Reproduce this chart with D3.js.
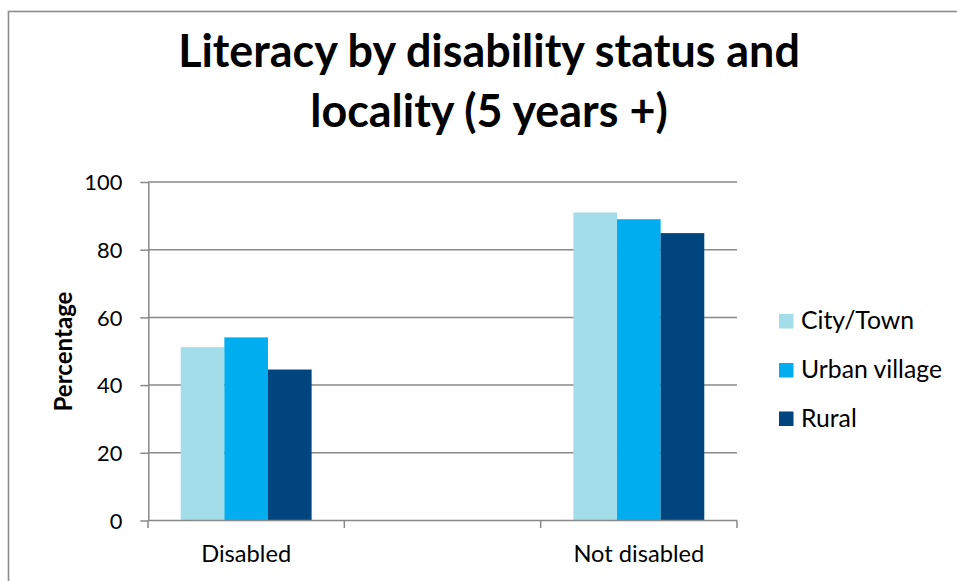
<!DOCTYPE html>
<html><head><meta charset="utf-8">
<script src="https://cdn.jsdelivr.net/npm/d3@7"></script>
<style>body{margin:0;background:#fff}svg{display:block}</style>
</head><body><svg id="c" width="957" height="581"></svg>
<script>
// ---- data ----
const categories = ["Disabled", "", "Not disabled"];
const series = ["City/Town", "Urban village", "Rural"];
const cityTown = [51.2, null, 91.0];
const urbanVillage = [54.1, null, 89.0];
const rural = [44.6, null, 84.9];
const yTicks = [0, 20, 40, 60, 80, 100];
const titleLines = ["Literacy by disability status and", "locality (5 years +)"];
const yTitle = "Percentage";

// ---- styles ----
const colors = ["#A3DDEA", "#00AEEF", "#00457D"];
const FONT = "Lato, 'Open Sans', sans-serif";
const gridColor = "#898989";

const values = [cityTown, urbanVillage, rural];
const svg = d3.select("#c");

function fit(sel, target) {
  const w = sel.node().getComputedTextLength();
  const fs = parseFloat(sel.attr("font-size"));
  const nfs = fs * target / w;
  sel.attr("font-size", nfs);
  return nfs;
}

// border (left & top visible)
svg.append("rect").attr("x", 8.5).attr("y", 11.5).attr("width", 1200).attr("height", 1200)
  .attr("fill", "#fff").attr("stroke", "#8c8c8c").attr("stroke-width", 1.6);

// scales
const x = d3.scaleBand().domain(categories.map((c, i) => i)).range([148, 737]).padding(0);
const xs = d3.scaleBand().domain(series).range([0, x.bandwidth()]).paddingInner(0).paddingOuter(0.75);
const y = d3.scaleLinear().domain([0, 100]).range([520.5, 182]);

// gridlines
svg.append("g").selectAll("line").data(yTicks.filter(t => t !== 0)).join("line")
  .attr("x1", 148).attr("x2", 737).attr("y1", d => y(d)).attr("y2", d => y(d))
  .attr("stroke", gridColor).attr("stroke-width", 1.5);

// bars
const gBars = svg.append("g");
categories.forEach((c, ci) => {
  series.forEach((s, si) => {
    const v = values[si][ci];
    if (v == null) return;
    gBars.append("rect")
      .attr("x", x(ci) + xs(s)).attr("width", xs.bandwidth())
      .attr("y", y(v)).attr("height", y(0) - y(v))
      .attr("fill", colors[si]);
  });
});

// y axis
const yAxis = svg.append("g").attr("transform", "translate(148.3,0)")
  .call(d3.axisLeft(y).tickValues(yTicks).tickSize(8).tickSizeOuter(0).tickPadding(18));
yAxis.select(".domain").attr("stroke", gridColor).attr("stroke-width", 1.5);
yAxis.selectAll(".tick line").attr("stroke", gridColor).attr("stroke-width", 1.5);
yAxis.selectAll(".tick text").attr("font-family", FONT).attr("fill", "#000")
  .attr("font-size", 22).attr("dy", "0.35em");
let tfs = 22;
yAxis.selectAll(".tick text").filter(d => d === 100).each(function () { tfs = fit(d3.select(this), 38); });
yAxis.selectAll(".tick text").attr("font-size", tfs);

// x axis
const gx = svg.append("g");
gx.append("line").attr("x1", 148).attr("x2", 737).attr("y1", y(0)).attr("y2", y(0))
  .attr("stroke", gridColor).attr("stroke-width", 1.5);
const bounds = categories.map((c, i) => x(i)).concat([x(categories.length - 1) + x.bandwidth()]);
gx.selectAll("line.tk").data(bounds).join("line").attr("class", "tk")
  .attr("x1", d => d).attr("x2", d => d).attr("y1", y(0)).attr("y2", y(0) + 7.5)
  .attr("stroke", gridColor).attr("stroke-width", 1.5);
const xl = gx.selectAll("text").data(categories.map((c, i) => ({ c, i })).filter(d => d.c)).join("text")
  .attr("x", d => x(d.i) + x.bandwidth() / 2).attr("y", 562.3)
  .attr("text-anchor", "middle").attr("font-family", FONT).attr("font-size", 22).attr("fill", "#000")
  .text(d => d.c);
const xfs = fit(xl.filter(d => d.c === "Disabled"), 90);
xl.attr("font-size", xfs);

// y title
const yt = svg.append("text").attr("transform", "translate(72,351.5) rotate(-90)")
  .attr("text-anchor", "middle").attr("font-family", FONT).attr("font-weight", "bold")
  .attr("font-size", 22).attr("fill", "#000").text(yTitle);
fit(yt, 120);

// title
const tl = svg.append("g").selectAll("text").data(titleLines).join("text")
  .attr("x", 489).attr("y", (d, i) => i === 0 ? 67.3 : 126.7)
  .attr("text-anchor", "middle").attr("font-family", FONT).attr("font-weight", "bold")
  .attr("font-size", 38).attr("fill", "#000").text(d => d);
const tfsz = fit(tl.filter((d, i) => i === 0), 622);
tl.attr("font-size", tfsz);

// legend
const baselines = [329, 378, 426.5];
const lg = svg.append("g");
series.forEach((s, i) => {
  lg.append("rect").attr("x", 779).attr("y", baselines[i] - 15).attr("width", 14.5).attr("height", 14.5)
    .attr("fill", colors[i]);
});
const lt = lg.selectAll("text").data(series).join("text")
  .attr("x", 801).attr("y", (d, i) => baselines[i])
  .attr("font-family", FONT).attr("font-size", 22).attr("fill", "#000").text(d => d);
const lfs = fit(lt.filter(d => d === "Urban village"), 141);
lt.attr("font-size", lfs);
</script></body></html>
